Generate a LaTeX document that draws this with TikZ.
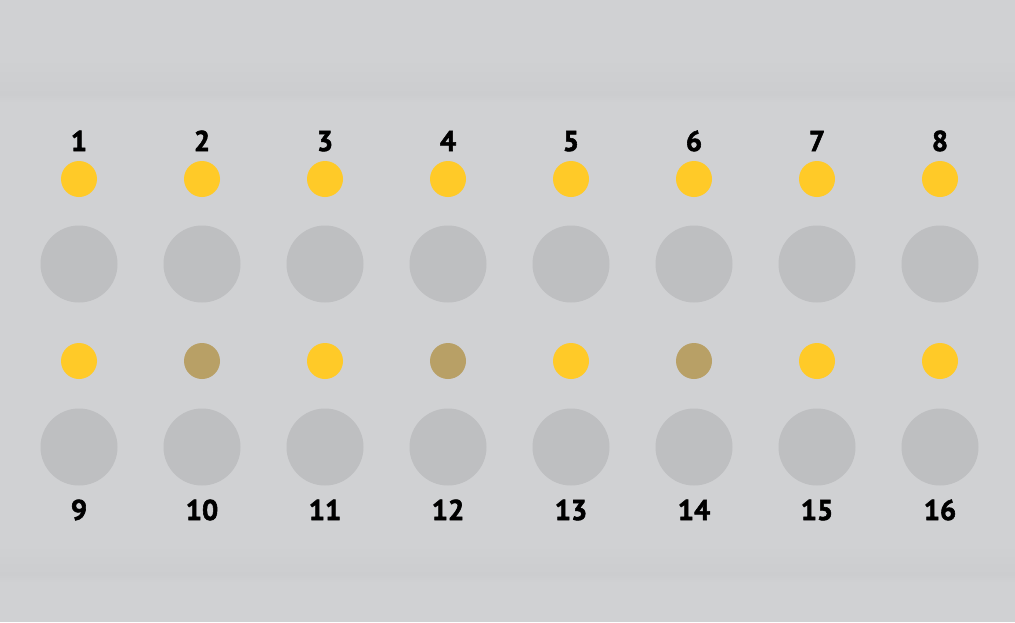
\documentclass[tikz,border=0pt]{standalone}
\usepackage{fontspec}
\newfontfamily\numfont[BoldFeatures={FakeBold=2}]{PT Sans}
\definecolor{bg}{HTML}{D0D1D3}
\definecolor{band}{HTML}{CCCDCF}
\definecolor{bigc}{HTML}{BEBFC1}
\definecolor{yel}{HTML}{FFCA28}
\definecolor{oli}{HTML}{B8A066}
\newlength{\px}\setlength{\px}{0.75pt}
\tikzset{
  small/.style={circle,fill=yel,draw=none,minimum size=36\px,inner sep=0pt},
  dim/.style={circle,fill=oli,draw=none,minimum size=36\px,inner sep=0pt},
  big/.style={circle,fill=bigc,draw=none,minimum size=77\px,inner sep=0pt},
  lbl/.style={font=\numfont\bfseries\fontsize{21.5}{24}\selectfont,anchor=base,text=black,inner sep=0pt}
}
\begin{document}
\begin{tikzpicture}[x=0.75pt,y=-0.75pt]
\useasboundingbox (0,0) rectangle (1015,622);
\fill[bg] (0,0) rectangle (1015,622);
\shade[top color=bg,bottom color=band] (0,58) rectangle (1015,95);
\shade[top color=band,bottom color=bg] (0,95) rectangle (1015,102);
\shade[top color=bg,bottom color=band] (0,545) rectangle (1015,575);
\shade[top color=band,bottom color=bg] (0,575) rectangle (1015,582);
\foreach \i/\x/\s in {1/79/small,2/202/dim,3/325/small,4/448/dim,5/571/small,6/694/dim,7/817/small,8/940/small}{
  \node[small] (t\i) at (\x,179) {};
  \node[big] (u\i) at (\x,264) {};
  \node[\s] (m\i) at (\x,361) {};
  \node[big] (b\i) at (\x,447) {};
  \node[lbl] (lt\i) at (\x,151) {\i};
  \pgfmathtruncatemacro{\j}{\i+8}
  \node[lbl] (lb\i) at (\x,520) {\j};
}
\end{tikzpicture}
\end{document}
